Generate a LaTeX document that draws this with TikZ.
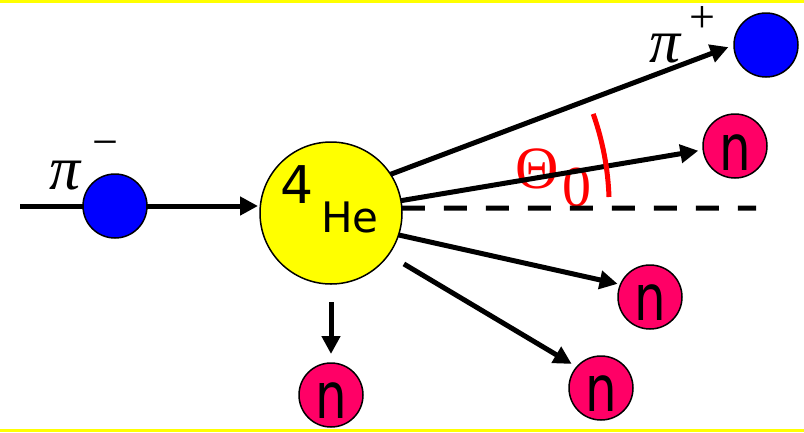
\documentclass[tikz,border=0pt]{standalone}
\usepackage{fontspec}
\usepackage{graphicx}
\usetikzlibrary{arrows.meta}
\newfontfamily\comicfont{DejaVu Sans}
\newfontfamily\timesfont{Liberation Serif}
\definecolor{nred}{HTML}{FF0066}
\definecolor{pblue}{HTML}{0000FF}
\definecolor{hyel}{HTML}{FFFF00}
\begin{document}
\begin{tikzpicture}[x=1pt,y=-1pt,
  ball/.style={circle,draw=black,line width=1.5pt,inner sep=0pt,outer sep=0pt,minimum size=64pt},
  pion/.style={ball,fill=pblue},
  neutron/.style={ball,fill=nred},
  track/.style={line width=5pt},
  arr/.style={track,-{Triangle[length=18pt,width=18pt]}},
  ntext/.style={anchor=base,inner sep=0pt,font=\comicfont\fontsize{64}{64}\selectfont},
  sym/.style={anchor=base,inner sep=0pt},
  pitext/.style={sym,font=\timesfont\itshape\fontsize{62}{62}\selectfont},
  signtext/.style={sym,font=\timesfont\fontsize{46}{46}\selectfont},
  angmark/.style={red,line width=5pt}
]
\useasboundingbox (0,0) rectangle (804,432);
\fill[white] (0,0) rectangle (804,432);
\fill[hyel] (0,0) rectangle (804,3);
\fill[hyel] (0,429) rectangle (804,432);

% nodes
\node[circle,draw=black,fill=hyel,line width=1.5pt,inner sep=0pt,outer sep=0pt,minimum size=142pt] (He) at (331,213) {};
\node[pion] (pim) at (115,206) {};
\node[pion] (pip) at (766,45) {};
\node[neutron] (n1) at (735,146) {};
\node[neutron] (n2) at (650,297) {};
\node[neutron] (n3) at (601,388) {};
\node[neutron] (n4) at (331,395) {};

\coordinate (lstart) at (20,206);
\coordinate (dend) at (756,208);

% texts
\node[sym,font=\comicfont\fontsize{52}{52}\selectfont] (four) at (297,203) {4};
\node[sym,font=\comicfont\fontsize{42}{42}\selectfont] (he) at (350,232) {He};
\node[ntext] (t1) at ([yshift=-24pt]n1.center) {\scalebox{0.78}[1]{n}};
\node[ntext] (t2) at ([yshift=-23pt]n2.center) {\scalebox{0.78}[1]{n}};
\node[ntext] (t3) at ([yshift=-23pt]n3.center) {\scalebox{0.78}[1]{n}};
\node[ntext] (t4) at ([yshift=-23pt]n4.center) {\scalebox{0.78}[1]{n}};

\node[pitext] (pimlab) at (65,189) {π};
\node[signtext] (pimsign) at (105,157) {−};
\node[pitext] (piplab) at (665,62) {π};
\node[signtext] (pipsign) at (702,32) {+};

\node[sym,red,font=\timesfont\fontsize{60}{60}\selectfont] (theta) at (537,188) {Θ};
\node[sym,red,font=\timesfont\fontsize{58}{58}\selectfont] (zero) at (577,206) {0};

% connectors
\draw[track] (lstart) -- (pim.west);
\draw[arr,shorten >=2pt] (pim.east) -- (pim.east -| He.west);
\draw[arr,shorten >=6pt] (He.33) -- (pip.180);
\draw[arr,shorten >=5pt] (He.10) -- (n1.187);
\draw[arr,shorten >=3pt] (He.-18) -- (n2.157);
\draw[arr,shorten <=18pt,shorten >=6pt] (He.-36) -- (n3.139);
\draw[arr,shorten <=18pt,shorten >=9pt] (He.south) -- (n4.north);
\draw[track,dash pattern=on 23pt off 19pt] (He.4) -- (dend);

% angle mark
\draw[angmark] (609,197) arc[start angle=2,end angle=19.5,radius=278pt];
\end{tikzpicture}
\end{document}
